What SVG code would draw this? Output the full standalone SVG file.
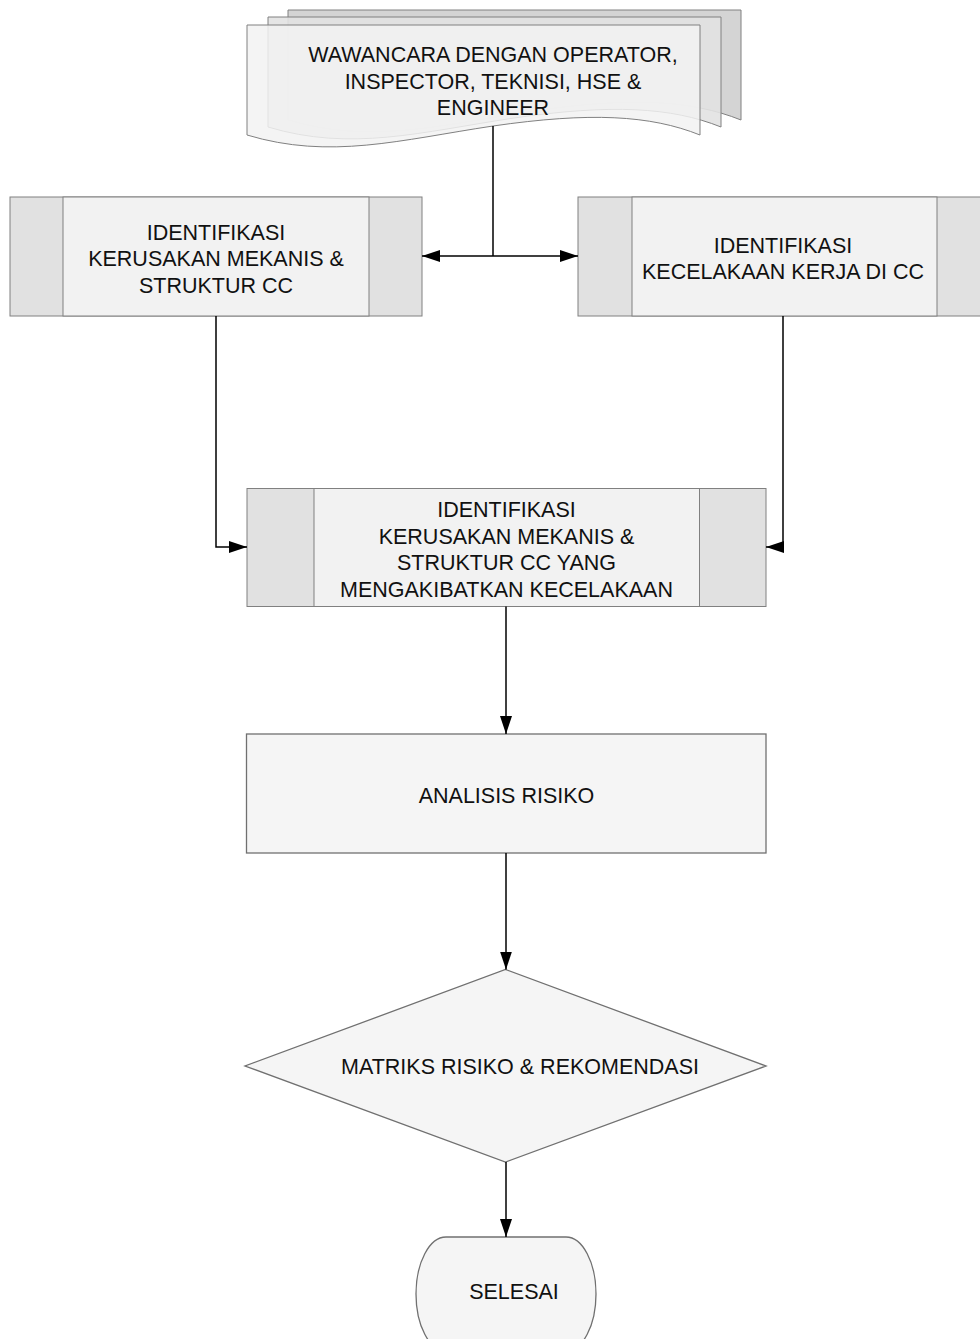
<svg xmlns="http://www.w3.org/2000/svg" width="980" height="1339" viewBox="0 0 980 1339">
<style>
text{font-family:"Liberation Sans",Arial,Helvetica,sans-serif;font-size:21.5px;fill:#111;text-anchor:middle}
.side{fill:#e1e1e1;stroke:#808080;stroke-width:1}
.mid{fill:#f2f2f2;stroke:#808080;stroke-width:1}
.plain{fill:#f5f5f5;stroke:#707070;stroke-width:1.3}
.conn{fill:none;stroke:#000;stroke-width:1.5}
.page{stroke:#808080;stroke-width:1}
</style>
<defs>
<marker id="arr" markerUnits="userSpaceOnUse" markerWidth="18" markerHeight="12" refX="18" refY="6" orient="auto">
<path d="M0,0 L18,6 L0,12 Z" fill="#000"/>
</marker>
</defs>
<rect width="980" height="1339" fill="#fff"/>

<g id="node-wawancara">
<path class="page" fill="#d4d4d4" d="M288,10 H741 V120 C691,100 631,97 534,111 C441,125 371,145 288,120 Z"/>
<path class="page" fill="#e2e2e2" fill-opacity="0.9" d="M268,17 H721 V127 C671,107 611,104 514,118 C421,132 351,152 268,127 Z"/>
<path class="page" fill="#f2f2f2" fill-opacity="0.85" d="M247,25 H700 V135 C650,115 590,112 493,126 C400,140 330,160 247,135 Z"/>
<text x="493" y="62">WAWANCARA DENGAN OPERATOR,</text>
<text x="493" y="88.5">INSPECTOR, TEKNISI, HSE &amp;</text>
<text x="493" y="115">ENGINEER</text>
</g>

<g id="node-kerusakan">
<rect class="side" x="10" y="197" width="412" height="119"/>
<rect class="mid" x="63" y="197" width="306" height="119"/>
<text x="216" y="239.5">IDENTIFIKASI</text>
<text x="216" y="266">KERUSAKAN MEKANIS &amp;</text>
<text x="216" y="292.5">STRUKTUR CC</text>
</g>

<g id="node-kecelakaan">
<rect class="side" x="578" y="197" width="413" height="119"/>
<rect class="mid" x="632" y="197" width="305" height="119"/>
<text x="783" y="252.5">IDENTIFIKASI</text>
<text x="783" y="279">KECELAKAAN KERJA DI CC</text>
</g>

<g id="node-gabungan">
<rect class="side" x="247" y="488.5" width="519" height="118"/>
<rect class="mid" x="314" y="488.5" width="385.5" height="118"/>
<text x="506.5" y="517">IDENTIFIKASI</text>
<text x="506.5" y="543.5">KERUSAKAN MEKANIS &amp;</text>
<text x="506.5" y="570">STRUKTUR CC YANG</text>
<text x="506.5" y="596.5">MENGAKIBATKAN KECELAKAAN</text>
</g>

<g id="node-analisis">
<rect class="plain" x="246.5" y="734" width="519.5" height="119"/>
<text x="506.5" y="803">ANALISIS RISIKO</text>
</g>

<g id="node-matriks">
<polygon class="plain" points="505.5,969.5 766,1066 505.5,1162 245,1066"/>
<text x="520" y="1074">MATRIKS RISIKO &amp; REKOMENDASI</text>
</g>

<g id="node-selesai">
<rect class="plain" x="416" y="1237" width="180" height="114" rx="30" ry="57"/>
<text x="514" y="1299">SELESAI</text>
</g>

<g id="connectors">
<path class="conn" d="M493,126 V256"/>
<path class="conn" d="M493,256 H422" marker-end="url(#arr)"/>
<path class="conn" d="M493,256 H578" marker-end="url(#arr)"/>
<path class="conn" d="M216,316 V547 H247" marker-end="url(#arr)"/>
<path class="conn" d="M783,316 V547 H766" marker-end="url(#arr)"/>
<path class="conn" d="M506,606.5 V734" marker-end="url(#arr)"/>
<path class="conn" d="M506,853 V969.5" marker-end="url(#arr)"/>
<path class="conn" d="M506,1162 V1237" marker-end="url(#arr)"/>
</g>
</svg>
